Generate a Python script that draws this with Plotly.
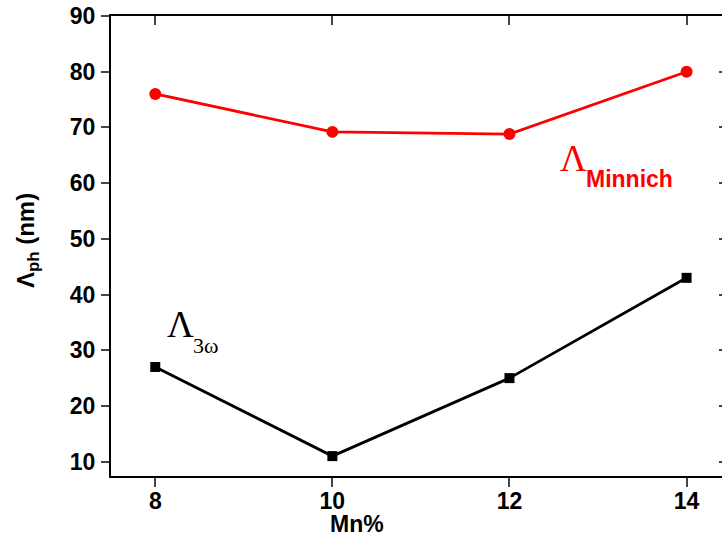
import plotly.graph_objects as go

mn_pct = [8, 10, 12, 14]
lambda_minnich = [76, 69.2, 68.8, 80]
lambda_3w = [27, 11, 25, 43]
y_ticks = [10, 20, 30, 40, 50, 60, 70, 80, 90]
x_ticks = [8, 10, 12, 14]

XR = [7.5, 14.4]
YR = [7.43, 90]
SANS = "Liberation Sans"
SERIF = "Liberation Serif"

fig = go.Figure()
fig.add_trace(go.Scatter(x=mn_pct, y=lambda_minnich, mode="lines+markers",
                         line=dict(color="#ff0000", width=2.8),
                         marker=dict(symbol="circle", size=12, color="#ff0000"),
                         showlegend=False))
fig.add_trace(go.Scatter(x=mn_pct, y=lambda_3w, mode="lines+markers",
                         line=dict(color="#000000", width=2.8),
                         marker=dict(symbol="square", size=10, color="#000000"),
                         showlegend=False))
fig.add_trace(go.Scatter(x=[], y=[], xaxis="x2", yaxis="y2", showlegend=False))

tickfont = dict(family=SANS, size=23, color="black", weight="bold")

fig.update_layout(
    width=722, height=541,
    margin=dict(l=111, r=0, t=16, b=65, autoexpand=False),
    paper_bgcolor="white", plot_bgcolor="white",
    xaxis=dict(range=XR, tickvals=x_ticks, ticks="outside", ticklen=9, tickwidth=1.5,
               showline=True, linewidth=2, linecolor="black", showgrid=False,
               zeroline=False, tickfont=tickfont, ticklabelstandoff=-6, automargin=False),
    yaxis=dict(range=YR, tickvals=y_ticks, ticks="outside", ticklen=8, tickwidth=1.5,
               showline=True, linewidth=2, linecolor="black", showgrid=False,
               zeroline=False, tickfont=tickfont, ticklabelstandoff=1, automargin=False,
               ticklabeloverflow="allow"),
    xaxis2=dict(range=XR, tickvals=x_ticks, overlaying="x", side="top", ticks="inside",
                ticklen=9, tickwidth=1.5, showline=True, linewidth=2, linecolor="black",
                showgrid=False, zeroline=False, showticklabels=False),
    yaxis2=dict(range=YR, tickvals=y_ticks, overlaying="y", side="right", ticks="inside",
                ticklen=3, tickwidth=1.5, showline=False, showgrid=False,
                zeroline=False, showticklabels=False),
)

fig.add_annotation(text="Mn%", xref="paper", yref="paper", x=0.4026, y=-0.105,
                   showarrow=False, font=dict(family=SANS, size=23, color="black", weight="bold"),
                   xanchor="center", yanchor="middle")
fig.add_annotation(text="Λ<sub>ph</sub> (nm)", xref="paper", yref="paper", x=-0.1375, y=0.513,
                   textangle=-90, showarrow=False,
                   font=dict(family=SANS, size=24, color="black", weight="bold"),
                   xanchor="center", yanchor="middle")

fig.add_annotation(text="Λ", x=12.72, y=64.5, showarrow=False,
                   font=dict(family=SERIF, size=37, color="#ff0000"),
                   xanchor="center", yanchor="middle")
fig.add_annotation(text="Minnich", x=13.36, y=60.8, showarrow=False,
                   font=dict(family=SANS, size=23, color="#ff0000", weight="bold"),
                   xanchor="center", yanchor="middle")
fig.add_annotation(text="Λ", x=8.28, y=34.6, showarrow=False,
                   font=dict(family=SERIF, size=37, color="black"),
                   xanchor="center", yanchor="middle")
fig.add_annotation(text="3ω", x=8.57, y=30.9, showarrow=False,
                   font=dict(family=SERIF, size=22, color="black"),
                   xanchor="center", yanchor="middle")

fig.write_html("out.html", config={"displayModeBar": False},
               post_script="document.body.style.margin='0';")
